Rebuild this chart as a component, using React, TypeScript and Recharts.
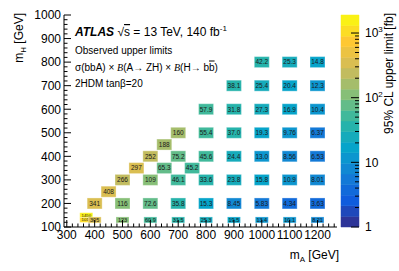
import React from "react";
import { ScatterChart, Scatter, XAxis, YAxis, ComposedChart, ReferenceArea } from "recharts";

// signal mass points: one column per m_A, m_H values and observed limits (fb)
const massA = [370, 400, 450, 500, 550, 600, 650, 700, 750, 800, 900, 1000, 1100, 1200];
const massH = [
  [150, 130],
  [130, 200],
  [250],
  [130, 200, 300],
  [350],
  [130, 200, 300, 400],
  [350, 450],
  [130, 200, 300, 400, 500],
  [350],
  [130, 200, 300, 400, 500, 600],
  [130, 200, 300, 400, 500, 600, 700],
  [130, 200, 300, 400, 500, 600, 700, 800],
  [130, 200, 300, 400, 500, 600, 700, 800],
  [130, 200, 300, 400, 500, 600, 700, 800],
];
const limits = [
  [1450, 1010],
  [305, 341],
  [408],
  [123, 116, 266],
  [297],
  [60.9, 72.6, 109, 252],
  [65.3, 188],
  [31.5, 35.8, 46.1, 75.2, 160],
  [45.2],
  [25.3, 15.3, 33.6, 45.6, 55.4, 57.9],
  [19.5, 8.45, 23.8, 24.4, 37.0, 31.8, 38.1],
  [13.4, 5.83, 15.8, 13.0, 19.3, 27.3, 25.4, 42.2],
  [10.1, 4.34, 10.9, 8.56, 9.76, 16.9, 20.4, 25.3],
  [8.21, 3.63, 8.01, 6.53, 6.37, 10.4, 12.3, 14.8],
];

const xMajor = [300, 400, 500, 600, 700, 800, 900, 1000, 1100, 1200];
const yMajor = [100, 200, 300, 400, 500, 600, 700, 800, 900, 1000];
const zMajor = [1, 10, 100, 1000];
const xDomain = [290, 1270];
const yDomain = [100, 1000];
const zMax = 1900;
const nLevels = 20;

const FONT = '"Liberation Sans", Arial, Helvetica, sans-serif';

const cells = massA.flatMap((a, i) =>
  massH[i].map((h, j) => ({ mA: a, mH: h, limit: limits[i][j] }))
);

const xTicks: number[] = [];
for (let v = 300; v <= 1260; v += 20) xTicks.push(v);
const yTicks: number[] = [];
for (let v = 100; v <= 1000; v += 20) yTicks.push(v);
const zTicks: number[] = [];
zMajor.forEach((d) => {
  for (let k = 1; k <= 9; k++) if (d * k <= zMax) zTicks.push(d * k);
});

// ROOT kBird palette
const birdStops = [0, 0.125, 0.25, 0.375, 0.5, 0.625, 0.75, 0.875, 1];
const birdR = [0.2082, 0.0592, 0.078, 0.0232, 0.1802, 0.5301, 0.8186, 0.9956, 0.9764];
const birdG = [0.1664, 0.3599, 0.5041, 0.6419, 0.7178, 0.7492, 0.7328, 0.7862, 0.9832];
const birdB = [0.5293, 0.8684, 0.8385, 0.7914, 0.6425, 0.4662, 0.3499, 0.1968, 0.0539];

function bird(t: number) {
  let k = 0;
  while (k < birdStops.length - 2 && t > birdStops[k + 1]) k++;
  const f = (t - birdStops[k]) / (birdStops[k + 1] - birdStops[k]);
  const c = (arr: number[]) => Math.round(255 * (arr[k] + f * (arr[k + 1] - arr[k])));
  return `rgb(${c(birdR)},${c(birdG)},${c(birdB)})`;
}

function limitColor(v: number) {
  const t = Math.log10(v) / Math.log10(zMax);
  const k = Math.max(0, Math.min(nLevels - 1, Math.floor(t * nLevels)));
  return bird((k + 0.5) / nLevels);
}

const bands = Array.from({ length: nLevels }, (_, k) => ({
  lo: Math.pow(zMax, k / nLevels),
  hi: Math.pow(zMax, (k + 1) / nLevels),
  color: bird((k + 0.5) / nLevels),
}));

const fmt = (v: number) => (v >= 100 ? v.toFixed(0) : v.toPrecision(3));

function CellShape(props: any) {
  const { cx, cy, payload } = props;
  const low = payload.mH < 160;
  const w = low ? 13 : 15;
  const h = low ? (payload.mA < 390 ? 5 : 6) : 11;
  const fs = payload.limit >= 1000 ? 4.3 : low ? 5.5 : 6.5;
  const fill = limitColor(payload.limit);
  return (
    <g>
      <rect x={cx - w / 2} y={cy - h / 2} width={w} height={h} fill={fill} stroke="#fff" strokeOpacity={0.35} strokeWidth={1} />
      <text x={cx} y={cy} dy="0.36em" textAnchor="middle" fontSize={fs} fontFamily={FONT} fill="#1a1a1a">
        {fmt(payload.limit)}
      </text>
    </g>
  );
}

function BottomTick(props: any) {
  const { x, y, payload } = props;
  const major = xMajor.includes(payload.value);
  return (
    <g>
      <line x1={x} x2={x} y1={y} y2={y - (major ? 7 : 3.5)} stroke="#000" />
      {major && (
        <text x={x} y={y + 3} dy="0.71em" textAnchor="middle" fontSize={12} fontFamily={FONT} fill="#000">
          {payload.value}
        </text>
      )}
    </g>
  );
}

function TopTick(props: any) {
  const { x, y, payload } = props;
  const major = xMajor.includes(payload.value);
  return <line x1={x} x2={x} y1={y} y2={y + (major ? 7 : 3.5)} stroke="#000" />;
}

function LeftTick(props: any) {
  const { x, y, payload } = props;
  const major = yMajor.includes(payload.value);
  return (
    <g>
      <line x1={x} x2={x + (major ? 7 : 3.5)} y1={y} y2={y} stroke="#000" />
      {major && (
        <text x={x - 3} y={y} dy="0.36em" textAnchor="end" fontSize={12} fontFamily={FONT} fill="#000">
          {payload.value}
        </text>
      )}
    </g>
  );
}

function RightTick(props: any) {
  const { x, y, payload } = props;
  const major = yMajor.includes(payload.value);
  return <line x1={x} x2={x - (major ? 7 : 3.5)} y1={y} y2={y} stroke="#000" />;
}

function ZTick(props: any) {
  const { x, y, payload } = props;
  const v = payload.value;
  const major = zMajor.includes(v);
  const exp = Math.round(Math.log10(v));
  return (
    <g>
      <line x1={x} x2={x - (major ? 8 : 4)} y1={y} y2={y} stroke="#000" />
      {major && (
        <text x={x + 6} y={y} dy="0.36em" fontSize={12} fontFamily={FONT} fill="#000">
          {exp < 2 ? v : "10"}
          {exp >= 2 && (
            <tspan dy={-5} fontSize={8}>
              {exp}
            </tspan>
          )}
        </text>
      )}
    </g>
  );
}

export default function App() {
  return (
    <div style={{ position: "fixed", left: 0, top: 0, width: 399, height: 271, background: "#fff" }}>
      <ScatterChart width={399} height={271} margin={{ top: 15, right: 62, bottom: 0, left: 0 }} style={{ position: "absolute", left: 0, top: 0 }}>
        <XAxis type="number" dataKey="mA" domain={xDomain} ticks={xTicks} interval={0} allowDataOverflow
          height={44} tickLine={false} tickSize={0} tickMargin={0} tick={<BottomTick />} axisLine={{ stroke: "#000" }} />
        <XAxis xAxisId="top" orientation="top" type="number" domain={xDomain} ticks={xTicks} interval={0} allowDataOverflow
          height={0} tickLine={false} tickSize={0} tickMargin={0} tick={<TopTick />} axisLine={{ stroke: "#000" }} />
        <YAxis type="number" dataKey="mH" domain={yDomain} ticks={yTicks} interval={0} allowDataOverflow
          width={64} tickLine={false} tickSize={0} tickMargin={0} tick={<LeftTick />} axisLine={{ stroke: "#000" }} />
        <YAxis yAxisId="right" orientation="right" type="number" domain={yDomain} ticks={yTicks} interval={0} allowDataOverflow
          width={0} tickLine={false} tickSize={0} tickMargin={0} tick={<RightTick />} axisLine={{ stroke: "#000" }} />
        <Scatter data={cells} shape={<CellShape />} isAnimationActive={false} />
      </ScatterChart>

      <ComposedChart width={399} height={271} data={bands} margin={{ top: 15, right: 0, bottom: 44, left: 341 }} style={{ position: "absolute", left: 0, top: 0 }}>
        <XAxis type="number" domain={[0, 1]} allowDataOverflow hide />
        <YAxis orientation="right" type="number" scale="log" domain={[1, zMax]} ticks={zTicks} interval={0} allowDataOverflow
          width={40} tickLine={false} tickSize={0} tickMargin={0} tick={<ZTick />} axisLine={false} />
        {bands.map((b, k) => (
          <ReferenceArea key={k} y1={b.lo} y2={b.hi} fill={b.color} fillOpacity={1} stroke={b.color} strokeWidth={0.5} ifOverflow="visible" />
        ))}
      </ComposedChart>

      <svg width={399} height={271} style={{ position: "absolute", left: 0, top: 0, pointerEvents: "none" }} fontFamily={FONT}>
        <text x={75} y={36} fontSize={12} fill="#000">
          <tspan fontWeight="bold" fontStyle="italic">ATLAS</tspan>
          <tspan> √</tspan>
          <tspan textDecoration="overline">s</tspan>
          <tspan> = 13 TeV, 140 fb</tspan>
          <tspan dy={-5} fontSize={8}>-1</tspan>
        </text>
        <text x={75} y={53.5} fontSize={10} fill="#000">Observed upper limits</text>
        <text x={75} y={70.5} fontSize={10} fill="#000">
          σ(bbA) ×{" "}
          <tspan fontFamily='"Liberation Serif", serif' fontStyle="italic">B</tspan>
          (A→ ZH) ×{" "}
          <tspan fontFamily='"Liberation Serif", serif' fontStyle="italic">B</tspan>
          (H→ b<tspan textDecoration="overline">b</tspan>)
        </text>
        <text x={75} y={87} fontSize={10} fill="#000">2HDM tanβ=20</text>

        <text x={339} y={259} textAnchor="end" fontSize={12} fill="#000">
          m<tspan fontSize={8} dy={3}>A</tspan>
          <tspan dy={-3}> [GeV]</tspan>
        </text>
        <text transform="translate(23,13) rotate(-90)" textAnchor="end" fontSize={12} fill="#000">
          m<tspan fontSize={8} dy={3}>H</tspan>
          <tspan dy={-3}> [GeV]</tspan>
        </text>
        <text transform="translate(393,13) rotate(-90)" textAnchor="end" fontSize={12} fill="#000">
          95% CL upper limit [fb]
        </text>
      </svg>
    </div>
  );
}
